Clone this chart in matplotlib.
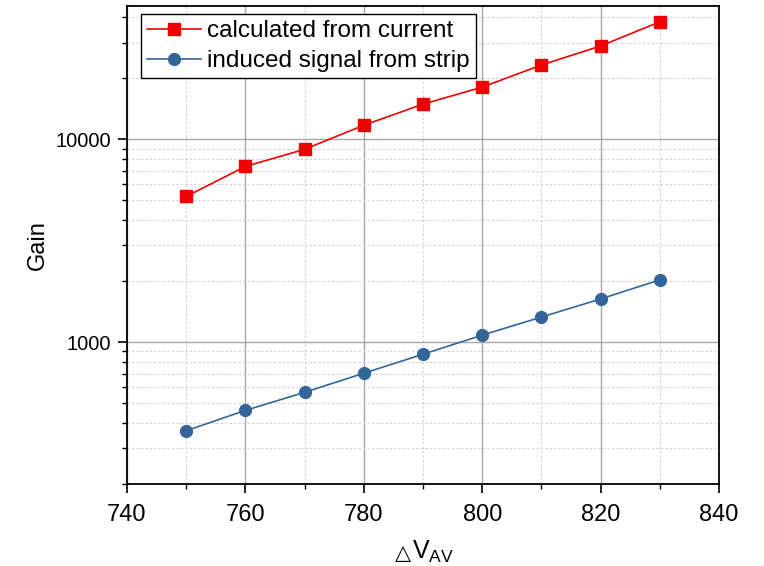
import matplotlib
matplotlib.use("Agg")
import matplotlib.pyplot as plt
from matplotlib.ticker import LogLocator, NullFormatter, FixedLocator, MultipleLocator

plt.rcParams['font.family'] = ['Liberation Sans', 'DejaVu Sans']
plt.rcParams['mathtext.fontset'] = 'custom'
plt.rcParams['mathtext.rm'] = 'Liberation Sans'

voltage = [750, 760, 770, 780, 790, 800, 810, 820, 830]
gain_current = [5225, 7350, 8925, 11730, 14900, 18080, 23230, 28840, 37930]
gain_strip = [366, 461, 566, 703, 872, 1083, 1330, 1633, 2028]
label_current = "calculated from current"
label_strip = "induced signal from strip"

W, H = 764, 566
fig = plt.figure(figsize=(W / 100, H / 100), dpi=100)
ax = fig.add_axes([0.1662, 0.1449, 0.9411 - 0.1662, 0.9894 - 0.1449])

ax.set_yscale('log')
ax.set_xlim(740, 840)
ax.set_ylim(200, 45400)

ax.xaxis.set_major_locator(MultipleLocator(20))
ax.xaxis.set_minor_locator(MultipleLocator(10))
ax.yaxis.set_major_locator(FixedLocator([1000, 10000]))
ax.yaxis.set_minor_locator(LogLocator(base=10, subs=range(2, 10), numticks=20))
ax.yaxis.set_minor_formatter(NullFormatter())
ax.set_yticklabels(['1000', '10000'])

ax.grid(which='major', color='#a8a8a8', linewidth=1.0, linestyle='-')
ax.grid(which='minor', color='#d0d0d0', linewidth=0.8, linestyle=(0, (2, 2)))
ax.set_axisbelow(True)

ax.plot(voltage, gain_current, color='#f00000', marker='s', markersize=8,
        linewidth=1.2, label=label_current)
ax.plot(voltage, gain_strip, color='#34659a', marker='o', markersize=8.5,
        linewidth=1.2, label=label_strip)

for s in ax.spines.values():
    s.set_linewidth(1.3)
    s.set_color('black')

ax.tick_params(which='major', direction='out', length=6.5, width=1.2,
               pad=5, top=False, right=False)
ax.tick_params(which='minor', direction='out', length=3.5, width=1.0,
               top=False, right=False)
ax.tick_params(axis='x', which='major', labelsize=17, pad=8)
ax.tick_params(axis='y', which='major', labelsize=14.5)

ax.set_ylabel('Gain', fontsize=17, labelpad=5)

# x label: small triangle + V with subscript AV
fig.text(411 / W, 1 - 559 / H, '△', fontsize=15, family='DejaVu Sans',
         ha='right', va='baseline')
fig.text(412 / W, 1 - 559 / H, r'V$_{\mathregular{AV}}$', fontsize=18,
         ha='left', va='baseline')

leg = ax.legend(loc='upper left', fontsize=17.5, frameon=True, fancybox=False,
                edgecolor='black', framealpha=1, borderpad=0.25,
                handlelength=2.2, handletextpad=0.25, labelspacing=0.32,
                borderaxespad=0, bbox_to_anchor=(0.024, 0.983))
leg.get_frame().set_linewidth(1.0)

fig.savefig('out.png', dpi=100)
